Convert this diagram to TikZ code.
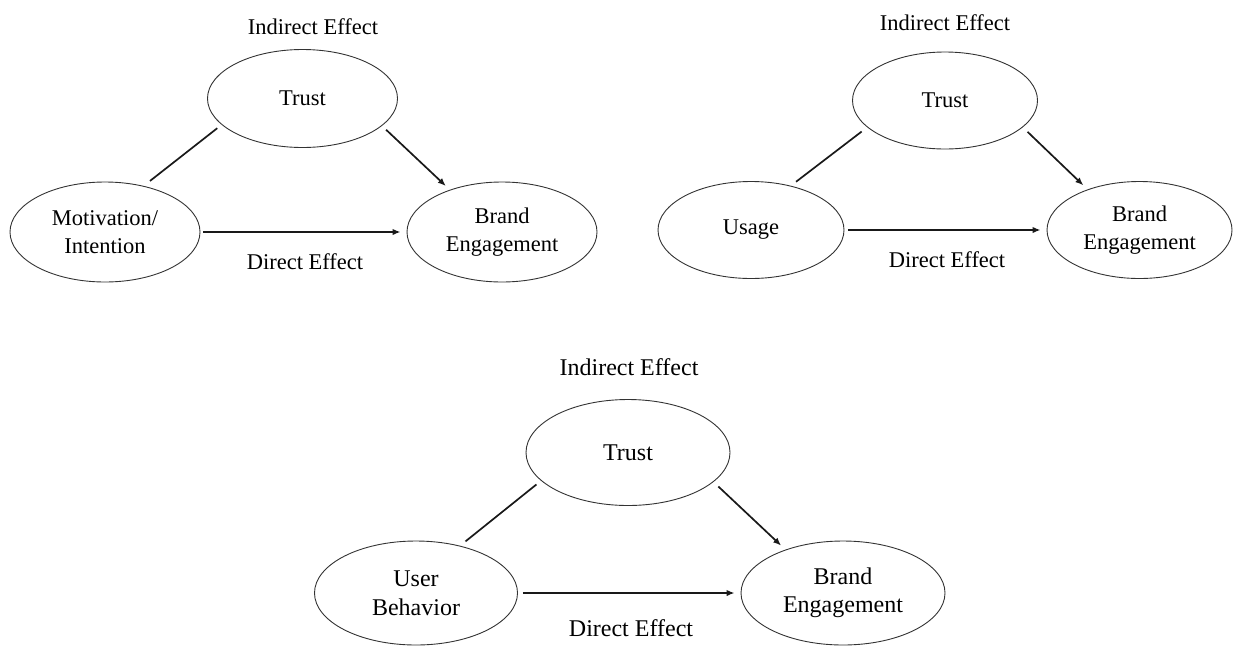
\documentclass[tikz,border=0pt]{standalone}
\usepackage{fontspec}
\setmainfont{Liberation Serif}
\usetikzlibrary{shapes.geometric,arrows.meta}
\begin{document}
\begin{tikzpicture}[x=1pt,y=-1pt,
  construct/.style={ellipse,draw=black!80,line width=0.9pt,inner sep=0pt,
    align=center,text=black,font=\fontsize{22.5}{28}\selectfont},
  bigconstruct/.style={construct,font=\fontsize{24}{28.5}\selectfont},
  caption/.style={inner sep=0pt,text=black,font=\fontsize{22.5}{28}\selectfont},
  bigcaption/.style={caption,font=\fontsize{24}{28.5}\selectfont},
  link/.style={line width=1.7pt,black!90},
  effect/.style={link,-{Latex[length=8pt,width=6.5pt]}}]
\useasboundingbox (0,0) rectangle (1233,648);

% Model 1: motivation / intention
\node[construct,minimum width=190pt,minimum height=98pt] (t1) at (302.5,98.5) {Trust};
\node[construct,minimum width=190pt,minimum height=100pt] (m1) at (105,232) {Motivation/\\Intention};
\node[construct,minimum width=190pt,minimum height=100pt] (b1) at (502,232) {Brand\\Engagement};
\node[caption] (ie1) at (313,27) {Indirect Effect};
\node[caption] (de1) at (305,262) {Direct Effect};
\draw[link,shorten <=5.6pt,shorten >=8pt] (t1.198.5) -- (m1.50.4);
\draw[effect,shorten <=5.6pt,shorten >=5.5pt] (t1.341.5) -- (b1.141.7);
\draw[effect,shorten <=3pt,shorten >=6pt] (m1) -- (b1);

% Model 2: usage
\node[construct,minimum width=185pt,minimum height=97pt] (t2) at (945,100.5) {Trust};
\node[construct,minimum width=186pt,minimum height=97pt] (u2) at (751,230) {Usage};
\node[construct,minimum width=185pt,minimum height=97pt] (b2) at (1139.5,230) {Brand\\Engagement};
\node[caption] (ie2) at (945,23) {Indirect Effect};
\node[caption] (de2) at (947,260) {Direct Effect};
\draw[link,shorten <=7pt,shorten >=6.5pt] (t2.199.5) -- (u2.48.2);
\draw[effect,shorten <=6.6pt,shorten >=5.9pt] (t2.341) -- (b2.142.2);
\draw[effect,shorten <=4pt,shorten >=6pt] (u2) -- (b2);

% Model 3: user behavior
\node[bigconstruct,minimum width=204pt,minimum height=106pt] (t3) at (628,452.5) {Trust};
\node[bigconstruct,minimum width=203pt,minimum height=104pt] (u3) at (416,593) {User\\Behavior};
\node[bigconstruct,minimum width=204pt,minimum height=104pt] (b3) at (843,593) {Brand\\Engagement};
\node[bigcaption] (ie3) at (629,366.7) {Indirect Effect};
\node[bigcaption] (de3) at (631,628) {Direct Effect};
\draw[link,shorten <=5.9pt,shorten >=6.9pt] (t3.198.7) -- (u3.47.9);
\draw[effect,shorten <=6.6pt,shorten >=5.9pt] (t3.341.5) -- (b3.143.5);
\draw[effect,shorten <=5pt,shorten >=6pt] (u3) -- (b3);
\end{tikzpicture}
\end{document}
